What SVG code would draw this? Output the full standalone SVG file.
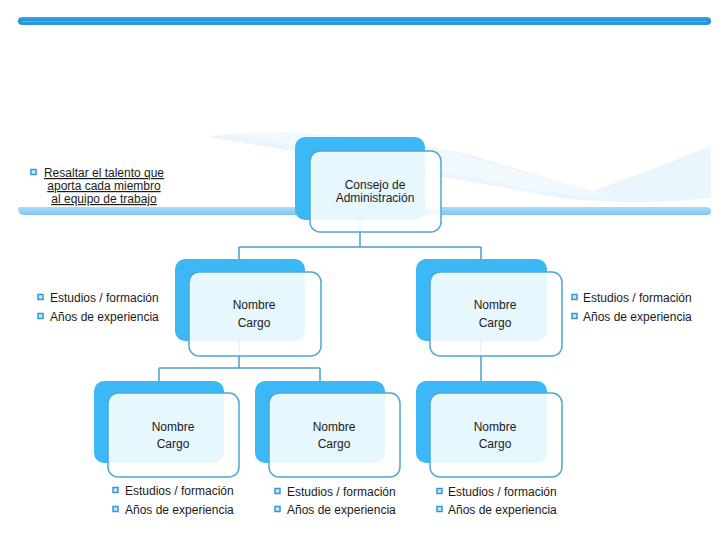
<svg xmlns="http://www.w3.org/2000/svg" width="728" height="546" viewBox="0 0 728 546">
<defs>
<style>
text{font-family:"Liberation Sans",Arial,sans-serif;font-size:12px;fill:#1a1a1a}
.back{fill:#3db8f6}
.front{fill:#ffffff;fill-opacity:0.88;stroke:#4ea6d6;stroke-width:1.5}
.conn{fill:none;stroke:#4a9fcf;stroke-width:1.5}
.bul{fill:#c4e8fb;stroke:#3796d6;stroke-width:1.5}
.mid{text-anchor:middle}
</style>
<linearGradient id="bar" x1="0" y1="0" x2="0" y2="1">
<stop offset="0" stop-color="#3aa9e8"/>
<stop offset="0.5" stop-color="#1e90d6"/>
<stop offset="1" stop-color="#2a9ddf"/>
</linearGradient>
<linearGradient id="band" x1="0" y1="0" x2="0" y2="1">
<stop offset="0" stop-color="#a9dcf8"/>
<stop offset="1" stop-color="#7fc6f1"/>
</linearGradient>
</defs>
<rect width="728" height="546" fill="#ffffff"/>
<!-- top bar -->
<rect x="18" y="17" width="693" height="8" rx="4" fill="url(#bar)"/>
<line x1="22" y1="21.5" x2="707" y2="21.5" stroke="#5cb9ec" stroke-width="1"/>
<!-- swoosh background -->
<path d="M207,137 Q300,124 460,152 Q540,175 590,192 Q650,170 711,146 L711,198 Q640,206 560,198 Q420,172 207,137 Z" fill="#e6f3fb" fill-opacity="0.8"/>
<path d="M230,134 Q330,127 450,152 Q540,176 610,196 Q560,195 520,188 Q400,160 230,134 Z" fill="#f2f9fe"/>
<!-- horizontal band -->
<path d="M24,207 H707 a4,4 0 0 1 4,4 v0 a4,4 0 0 1 -4,4 H24 a6,6 0 0 1 -6,-6 v0 a2,2 0 0 1 2,-2 Z" fill="url(#band)"/>
<!-- connectors -->
<g id="connectors">
<path class="conn" d="M360,220 V247 M239,247 H481 M239,247 V262 M481,247 V262"/>
<path class="conn" d="M239,341 V368 M159,368 H320 M159,368 V384 M320,368 V384"/>
<path class="conn" d="M481,341 V384"/>
</g>
<!-- nodes -->
<g id="node-consejo">
<rect class="back" x="295" y="137" width="130" height="83" rx="10"/>
<rect class="front" x="310" y="151" width="131" height="81" rx="10"/>
<text class="mid" x="375" y="189">Consejo de</text>
<text class="mid" x="375" y="202">Administración</text>
</g>
<g id="node-mid-left">
<rect class="back" x="175" y="259" width="130" height="82" rx="10"/>
<rect class="front" x="189" y="272" width="132" height="84" rx="10"/>
<text class="mid" x="254" y="309">Nombre</text>
<text class="mid" x="254" y="327">Cargo</text>
</g>
<g id="node-mid-right">
<rect class="back" x="416" y="259" width="131" height="82" rx="10"/>
<rect class="front" x="430" y="272" width="132" height="84" rx="10"/>
<text class="mid" x="495" y="309">Nombre</text>
<text class="mid" x="495" y="327">Cargo</text>
</g>
<g id="node-bottom-left">
<rect class="back" x="94" y="381" width="130" height="82" rx="10"/>
<rect class="front" x="108" y="393" width="131" height="84" rx="10"/>
<text class="mid" x="173" y="431">Nombre</text>
<text class="mid" x="173" y="448">Cargo</text>
</g>
<g id="node-bottom-mid">
<rect class="back" x="255" y="381" width="130" height="82" rx="10"/>
<rect class="front" x="269" y="393" width="131" height="84" rx="10"/>
<text class="mid" x="334" y="431">Nombre</text>
<text class="mid" x="334" y="448">Cargo</text>
</g>
<g id="node-bottom-right">
<rect class="back" x="416" y="381" width="131" height="82" rx="10"/>
<rect class="front" x="430" y="393" width="132" height="84" rx="10"/>
<text class="mid" x="495" y="431">Nombre</text>
<text class="mid" x="495" y="448">Cargo</text>
</g>
<!-- bullet texts -->
<g id="note-top-left">
<rect class="bul" x="31" y="169.5" width="5" height="5"/>
<text class="mid" x="104" y="177" text-decoration="underline">Resaltar el talento que</text>
<text class="mid" x="104" y="190" text-decoration="underline">aporta cada miembro</text>
<text class="mid" x="104" y="203" text-decoration="underline">al equipo de trabajo</text>
</g>
<g id="note-mid-left">
<rect class="bul" x="38" y="294.5" width="5" height="5"/>
<text x="50" y="302">Estudios / formación</text>
<rect class="bul" x="38" y="313.5" width="5" height="5"/>
<text x="50" y="321">Años de experiencia</text>
</g>
<g id="note-mid-right">
<rect class="bul" x="572" y="294.5" width="5" height="5"/>
<text x="583" y="302">Estudios / formación</text>
<rect class="bul" x="572" y="313.5" width="5" height="5"/>
<text x="583" y="321">Años de experiencia</text>
</g>
<g id="note-bottom-left">
<rect class="bul" x="113" y="487.5" width="5" height="5"/>
<text x="125" y="495">Estudios / formación</text>
<rect class="bul" x="113" y="506.5" width="5" height="5"/>
<text x="125" y="514">Años de experiencia</text>
</g>
<g id="note-bottom-mid">
<rect class="bul" x="275" y="488.5" width="5" height="5"/>
<text x="287" y="496">Estudios / formación</text>
<rect class="bul" x="275" y="506.5" width="5" height="5"/>
<text x="287" y="514">Años de experiencia</text>
</g>
<g id="note-bottom-right">
<rect class="bul" x="437" y="488.5" width="5" height="5"/>
<text x="448" y="496">Estudios / formación</text>
<rect class="bul" x="437" y="506.5" width="5" height="5"/>
<text x="448" y="514">Años de experiencia</text>
</g>
</svg>
